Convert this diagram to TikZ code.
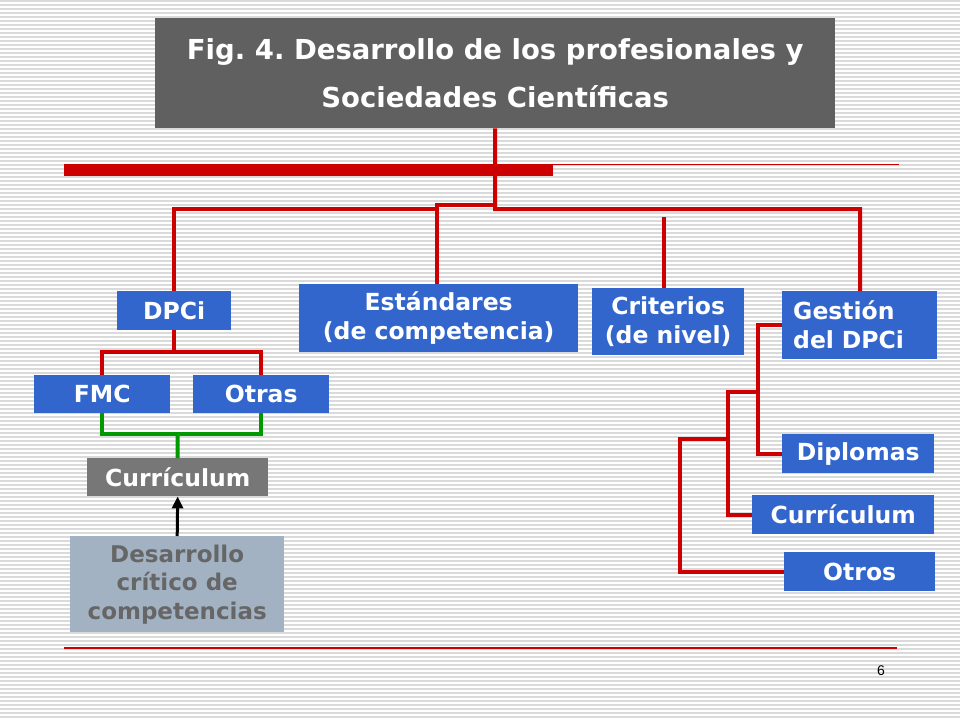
\documentclass[tikz,border=0pt]{standalone}
\usepackage{fontspec}
\setmainfont{DejaVu Sans}
\newfontfamily\numfont{Liberation Sans}
\usepackage{tikz}
\usetikzlibrary{arrows.meta, positioning, calc}
\frenchspacing
\definecolor{titlegray}{RGB}{96, 96, 96}
\definecolor{boxblue}{RGB}{51, 102, 204}
\definecolor{currgray}{RGB}{119, 119, 119}
\definecolor{softsteel}{RGB}{162, 178, 194}
\definecolor{textgray}{RGB}{102, 102, 102}
\definecolor{linered}{RGB}{204, 0, 0}
\definecolor{linegreen}{RGB}{0, 153, 0}
\definecolor{stripecol}{RGB}{218, 218, 218}
\tikzset{
    block/.style={
        rectangle,
        anchor=north west,
        inner sep=0pt,
        align=center,
        text=white,
        font=\fontsize{23.5}{29}\selectfont\bfseries
    },
    bluebox/.style={block, fill=boxblue},
    redline/.style={line width=4pt, color=linered},
    greenline/.style={line width=4pt, color=linegreen},
    arrow/.style={
        line width=3pt,
        -{Triangle[width=11pt, length=12pt]},
        color=black
    }
}
\begin{document}
\begin{tikzpicture}[x=1pt, y=-1pt]
    \useasboundingbox (0,0) rectangle (960,720);
    % --- fondo rayado ---
    \foreach \y in {1,5,...,717}
        \draw[stripecol, line width=1.5pt] (0,\y) -- (960,\y);

    % --- TITULO ---
    \node (title) [block, fill=titlegray, minimum width=680pt, minimum height=110pt,
        font=\fontsize{27.5}{48}\selectfont\bfseries] at (155,18)
        {Fig. 4. Desarrollo de los profesionales y \\ Sociedades Científicas};

    % --- barras rojas ---
    \fill[linered] (64,164) rectangle (553,176);
    \draw[linered, line width=1pt] (553,164.5) -- (899,164.5);
    \draw[linered, line width=1.2pt] (64,648) -- (897,648);
    \node (pagenum) at (881,671) {\numfont\fontsize{14}{16}\selectfont 6};

    % --- NIVEL 1 ---
    \node (dpci) [bluebox, minimum width=114pt, minimum height=39pt] at (117,291) {DPCi};
    \node (estandares) [bluebox, minimum width=279pt, minimum height=68pt] at (299,284) {Estándares \\ (de competencia)};
    \node (criterios) [bluebox, minimum width=152pt, minimum height=67pt] at (592,288) {Criterios \\ (de nivel)};
    \node (gestion) [bluebox, minimum height=68pt, text width=144pt, align=left] at (793,291) {Gestión \\ del DPCi};
    \fill[boxblue] (782,291) rectangle (793,359);

    % --- RAMA IZQUIERDA ---
    \node (fmc) [bluebox, minimum width=136pt, minimum height=38pt] at (34,375) {FMC};
    \node (otras) [bluebox, minimum width=136pt, minimum height=38pt] at (193,375) {Otras};
    \node (curric) [block, fill=currgray, minimum width=181pt, minimum height=38pt] at (87,458) {Currículum};
    \node (desarrollo) [block, fill=softsteel, text=textgray, minimum width=214pt, minimum height=96pt,
        font=\fontsize{23}{28.5}\selectfont\bfseries] at (70,536) {Desarrollo \\ crítico de \\ competencias};

    % --- RAMA DERECHA ---
    \node (diplomas) [bluebox, minimum width=152pt, minimum height=39pt] at (782,434) {Diplomas};
    \node (currgest) [bluebox, minimum width=182pt, minimum height=39pt] at (752,495) {Currículum};
    \node (otros) [bluebox, minimum width=151pt, minimum height=39pt] at (784,552) {Otros};

    % --- CONEXIONES SUPERIORES ---
    \coordinate (hub) at (495,209);
    \draw[redline] (title.south) -- (hub) -| (gestion.north -| 860,0);
    \draw[redline] (estandares.north -| 437,0) |- ([yshift=4pt]hub);
    \draw[redline] (dpci.north) |- (437,209);
    \draw[redline] (criterios.north -| 664,0) -- ++(0,-71);

    % --- DPCi -> FMC / Otras ---
    \draw[redline] (dpci.south) -- ++(0,22) coordinate (dpcijoin);
    \draw[redline] (fmc.north) |- (dpcijoin) -| (otras.north);

    % --- FMC / Otras -> Currículum ---
    \coordinate (greenjoin) at (177.5,434);
    \draw[greenline] (fmc.south) |- (greenjoin) -| (otras.south);
    \draw[greenline] (greenjoin) -- (curric.north);
    \draw[arrow] (desarrollo.north) -- (curric.south);

    % --- Gestión -> Diplomas / Currículum / Otros ---
    \draw[redline] (gestion.west -| 782,0) -- ++(-24,0) |- (diplomas.west);
    \coordinate (gestjoin1) at (758,392);
    \draw[redline] (gestjoin1) -- ++(-30,0) |- (currgest.west);
    \coordinate (gestjoin2) at (728,439);
    \draw[redline] (gestjoin2) -- ++(-48,0) |- (otros.west);
\end{tikzpicture}
\end{document}
